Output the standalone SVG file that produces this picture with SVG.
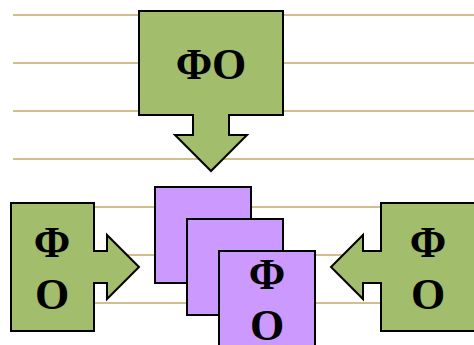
<svg xmlns="http://www.w3.org/2000/svg" width="474" height="345" viewBox="0 0 474 345">
<style>
.rule{stroke:#cfc08c;stroke-width:2;fill:none}
.g{fill:#a2bd6c;stroke:#000;stroke-width:2}
.p{fill:#cc99ff;stroke:#000;stroke-width:2}
text{font-family:"Liberation Serif","Times New Roman",serif;font-weight:bold;font-size:44px;fill:#000;text-anchor:middle}
</style>
<rect width="474" height="345" fill="#fff"/>
<g id="connectors">
<path class="rule" d="M13 15H474M13 63H474M13 111H474M13 159H474M13 207H474M13 255H474M13 303H474"/>
</g>
<g id="node-top">
<path class="g" d="M139 11H283V115H229V135H247L211 171L175 135H193V115H139Z"/>
<text x="211" y="79">ΦO</text>
</g>
<g id="node-left">
<path class="g" d="M11 203H94V251H107V235L139 267L107 299V283H94V331H11Z"/>
<text x="52" y="257">Φ</text>
<text x="52" y="309">O</text>
</g>
<g id="node-right">
<path class="g" d="M381 203H476V331H381V283H363V299L331 267L363 235V251H381Z"/>
<text x="428" y="257">Φ</text>
<text x="428" y="309">O</text>
</g>
<g id="node-card-1"><rect class="p" x="155" y="187" width="96" height="96"/></g>
<g id="node-card-2"><rect class="p" x="187" y="219" width="96" height="96"/></g>
<g id="node-card-3">
<rect class="p" x="219" y="251" width="96" height="96"/>
<text x="267" y="289">Φ</text>
<text x="267" y="340">O</text>
</g>
</svg>
